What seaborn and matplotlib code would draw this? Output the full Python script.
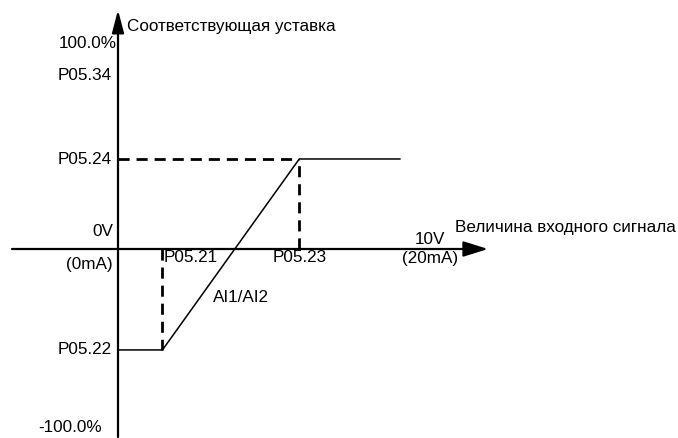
import matplotlib
matplotlib.use("Agg")
import matplotlib.pyplot as plt
import seaborn as sns
import pandas as pd

sns.set_theme(style="white")
plt.rcParams['font.family'] = ['Liberation Sans', 'DejaVu Sans']

# Data (input signal in V, setting in %)
curve_x = [0.0, 1.3, 5.3, 8.25]
curve_y = [-49.0, -49.0, 43.7, 43.7]
p0521_x = 1.3
p0523_x = 5.3
p0524_y = 43.7
p0522_y = -49.0

y_labels = ["100.0%", "P05.34", "P05.24", "P05.22", "-100.0%"]
x_labels = ["P05.21", "P05.23"]

# pixel mapping for the layout (figure is 678x438 px)
X0, SX = 118.0, 34.2   # pixel of 0 V, px per V
Y0, SY = 249.0, 2.06   # pixel of 0 %, px per %

W, H = 678, 438
fig = plt.figure(figsize=(W / 100, H / 100), dpi=100)
ax = fig.add_axes([0, 0, 1, 1])
ax.set_xlim(-X0 / SX, (W - X0) / SX)
ax.set_ylim((Y0 - H) / SY, Y0 / SY)
ax.axis("off")


def px(x, y):
    return ((x - X0) / SX, (Y0 - y) / SY)


df = pd.DataFrame({"x": curve_x, "y": curve_y})
sns.lineplot(data=df, x="x", y="y", ax=ax, color="black", linewidth=1.1,
             sort=False, estimator=None)

# dashed guides
dash = dict(color="black", linewidth=2.0, linestyle=(0, (4, 2.5)))
ax.plot([0, p0523_x], [p0524_y, p0524_y], **dash)
ax.plot([p0523_x, p0523_x], [0, p0524_y], **dash)
ax.plot([p0521_x, p0521_x], [0, p0522_y], **dash)

# axes with arrows
ax.annotate("", xy=px(118, 10), xytext=px(118, 437),
            arrowprops=dict(arrowstyle="-|>,head_length=1.37,head_width=0.36",
                            mutation_scale=10,
                            color="black", lw=1.6, shrinkA=0, shrinkB=0))
ax.annotate("", xy=px(488, 249), xytext=px(12, 249),
            arrowprops=dict(arrowstyle="-|>,head_length=1.5,head_width=0.47",
                            mutation_scale=10,
                            color="black", lw=1.6, shrinkA=0, shrinkB=0))

fs = 12.3
kw = dict(fontsize=fs, color="black", va="center")
ax.text(*px(127, 26), "Соответствующая уставка", ha="left", **kw)
ax.text(*px(117, 43), y_labels[0], ha="right", **kw)
ax.text(*px(58, 75), y_labels[1], ha="left", **kw)
ax.text(*px(58, 159), y_labels[2], ha="left", **kw)
ax.text(*px(58, 350), y_labels[3], ha="left", **kw)
ax.text(*px(38, 428), y_labels[4], ha="left", **kw)
ax.text(*px(113, 232), "0V", ha="right", **kw)
ax.text(*px(113, 265), "(0mA)", ha="right", **kw)
ax.text(*px(164, 257), x_labels[0], ha="left", **kw)
ax.text(*px(273, 257), x_labels[1], ha="left", **kw)
ax.text(*px(213, 298), "AI1/AI2", ha="left", **kw)
ax.text(*px(430, 240), "10V", ha="center", **kw)
ax.text(*px(430, 259), "(20mA)", ha="center", **kw)
ax.text(*px(455, 228), "Величина входного сигнала", ha="left", **kw)

fig.savefig("out.png", dpi=100, facecolor="white")
